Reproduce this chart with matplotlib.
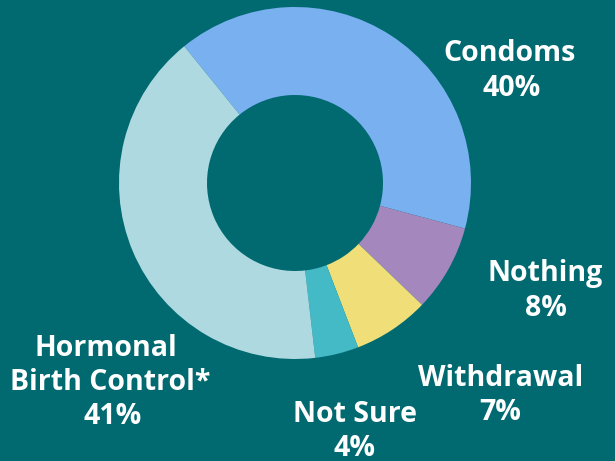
import matplotlib.pyplot as plt

labels = ["Condoms", "Nothing", "Withdrawal", "Not Sure", "Hormonal\nBirth Control*"]
values = [40, 8, 7, 4, 41]
colors = ["#78b0f0", "#a487bd", "#f0df78", "#43bac6", "#aed9e1"]
bg = "#006a70"

fig = plt.figure(figsize=(6.15, 4.61), dpi=100, facecolor=bg)
ax = fig.add_axes([0, 0, 1, 1])
ax.set_facecolor(bg)

ax.pie(values, colors=colors, startangle=129, counterclock=False,
       radius=176, center=(295, 278),
       wedgeprops=dict(width=88, linewidth=0))

ax.set_xlim(0, 615)
ax.set_ylim(0, 461)
ax.set_aspect("equal")
ax.axis("off")

# label line positions (pixels from top-left), one entry per line
label_pos = [[(510, 54)], [(545, 274)], [(501, 378)], [(355, 414)],
             [(106, 348), (110, 383)]]
pct_pos = [(512, 88), (546, 309), (500, 412), (355, 448), (113, 417)]

font = dict(color="white", fontsize=20.5, fontweight="bold", family="Open Sans",
            ha="center", va="center")
for lab, val, lines, (px, py) in zip(labels, values, label_pos, pct_pos):
    for line, (lx, ly) in zip(lab.split("\n"), lines):
        ax.text(lx, 461 - ly, line, **font)
    ax.text(px, 461 - py, f"{val}%", **font)

fig.savefig("out.png", dpi=100, facecolor=bg)
